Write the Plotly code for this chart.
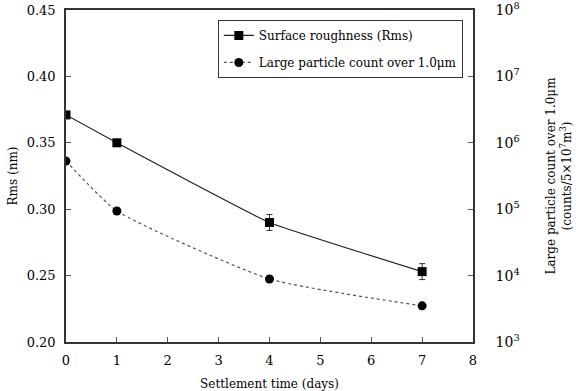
import plotly.graph_objects as go

days = [0, 1, 4, 7]
rms = [0.371, 0.350, 0.290, 0.253]
rms_err = [0.001, 0.001, 0.006, 0.006]
particles = [5.3e5, 9.4e4, 8.9e3, 3.5e3]

y2_tickvals = [1e3, 1e4, 1e5, 1e6, 1e7, 1e8]
y2_ticktext = ["10<sup>3</sup>", "10<sup>4</sup>", "10<sup>5</sup>", "10<sup>6</sup>", "10<sup>7</sup>", "10<sup>8</sup>"]

FONT = "DejaVu Serif"

fig = go.Figure()
fig.add_trace(go.Scatter(
    x=days, y=rms, name="Surface roughness (Rms)", legendgroup="a",
    mode="lines+markers",
    line=dict(color="#222222", width=1.2, shape="spline", smoothing=0.3),
    marker=dict(symbol="square", size=9, color="black"),
    error_y=dict(type="data", array=rms_err, visible=True, color="#333333", thickness=1, width=3),
))
fig.add_trace(go.Scatter(
    x=days, y=particles, name="Large particle count over 1.0μm", legendgroup="b",
    mode="lines+markers", yaxis="y2",
    line=dict(color="#555555", width=1.2, dash="dot", shape="spline", smoothing=0.5),
    marker=dict(symbol="circle", size=9, color="black"),
))

fig.update_layout(
    width=576, height=391,
    margin=dict(l=66, r=103, t=10, b=49, autoexpand=False),
    paper_bgcolor="white", plot_bgcolor="white",
    font=dict(family=FONT, size=13, color="black"),
    showlegend=True,
    legend=dict(x=0.975, y=0.97, xanchor="right", yanchor="top",
                bordercolor="#333333", borderwidth=1, bgcolor="white",
                font=dict(size=12), tracegroupgap=8),
    xaxis=dict(range=[0, 8], dtick=1, showgrid=False, zeroline=False, automargin=False,
               showline=True, linecolor="#333333", linewidth=1.5, mirror=True,
               ticks="inside", ticklen=5, tickcolor="#555555", ticklabelstandoff=6,
               title=dict(text="Settlement time (days)", font=dict(size=12), standoff=22)),
    yaxis=dict(range=[0.20, 0.45], dtick=0.05, tickformat=".2f", showgrid=False, zeroline=False,
               automargin=False, ticklabeloverflow="allow",
               showline=True, linecolor="#333333", linewidth=1.5,
               ticks="inside", ticklen=5, tickcolor="#555555", ticklabelstandoff=6,
               title=dict(text="Rms (nm)", font=dict(size=12), standoff=6)),
    yaxis2=dict(type="log", range=[3, 8], overlaying="y", side="right", automargin=False,
                tickvals=y2_tickvals, ticktext=y2_ticktext, ticklabeloverflow="allow",
                showgrid=False, zeroline=False, showline=True, linecolor="#333333", linewidth=1.5,
                ticks="inside", ticklen=5, tickcolor="#555555", ticklabelstandoff=18,
                tickfont=dict(size=14),
                title=dict(text="Large particle count over 1.0μm<br>(counts/5×10<sup>7</sup>m<sup>3</sup>)",
                           font=dict(size=12), standoff=28)),
)

fig.write_html("out.html")
